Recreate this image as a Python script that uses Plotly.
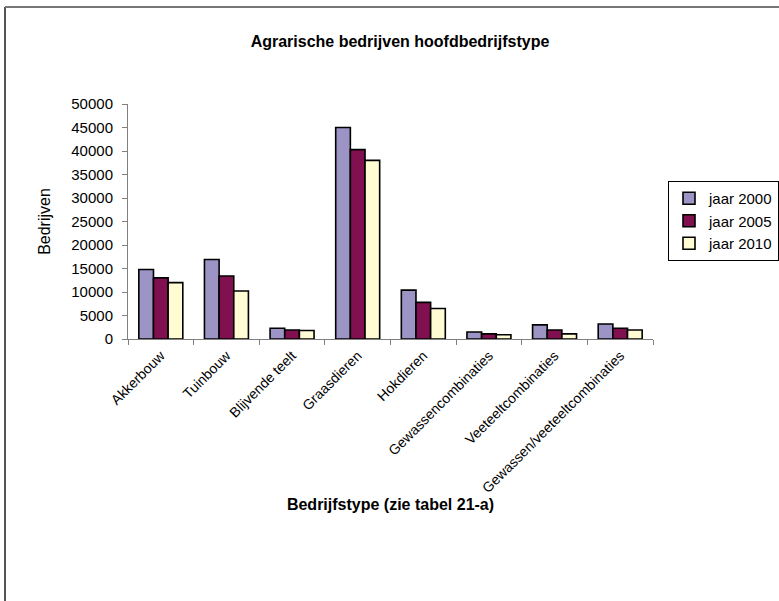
import plotly.graph_objects as go

categories = ["Akkerbouw", "Tuinbouw", "Blijvende teelt", "Graasdieren", "Hokdieren",
              "Gewassencombinaties", "Veeteeltcombinaties", "Gewassen/veeteeltcombinaties"]
jaar_2000 = [14800, 16900, 2300, 45000, 10400, 1500, 3000, 3200]
jaar_2005 = [13000, 13400, 1900, 40300, 7800, 1100, 1900, 2300]
jaar_2010 = [12000, 10200, 1800, 38000, 6500, 900, 1100, 1900]
series_names = ["jaar 2000", "jaar 2005", "jaar 2010"]
y_ticks = list(range(0, 50001, 5000))

colors = ["#9C94C4", "#80104F", "#FFFBD2"]

W, H = 779, 601
L, R, T, B = 128, 126, 104, 262
pw, ph = W - L - R, H - T - B

def px(x):
    return (x - L) / pw

def py(y):
    return (H - B - y) / ph

fig = go.Figure()
for name, vals, c in zip(series_names, [jaar_2000, jaar_2005, jaar_2010], colors):
    fig.add_trace(go.Bar(x=categories, y=vals, name=name,
                         marker=dict(color=c, line=dict(color="black", width=1.6))))

font = "Liberation Sans, Arial, sans-serif"
fig.update_layout(
    width=W, height=H,
    margin=dict(l=L, r=R, t=T, b=B, autoexpand=False),
    paper_bgcolor="white", plot_bgcolor="white",
    barmode="group", bargap=0.33, bargroupgap=0,
    font=dict(family=font, size=14, color="black"),
    title=dict(text="<b>Agrarische bedrijven hoofdbedrijfstype</b>",
               x=400 / W, xanchor="center", y=1 - 41 / H, yanchor="middle",
               font=dict(family=font, size=16, color="black")),
    showlegend=True,
    legend=dict(x=px(668), y=py(181), xanchor="left", yanchor="top",
                bordercolor="black", borderwidth=1, bgcolor="white",
                font=dict(family=font, size=15, color="black"),
                itemwidth=30, tracegroupgap=0),
    xaxis=dict(showline=True, linecolor="#808080", linewidth=1,
               ticks="outside", tickson="boundaries", ticklen=5, tickcolor="#808080",
               tickangle=-45, tickfont=dict(family=font, size=14),
               ticklabelstandoff=2,
               showgrid=False, automargin=False,
               title=dict(text="<b>Bedrijfstype (zie tabel 21-a)</b>",
                          font=dict(family=font, size=16), standoff=0)),
    yaxis=dict(range=[0, 50000], tickvals=y_ticks, tickformat="d", showline=True,
               linecolor="#808080", linewidth=1, ticks="outside", ticklen=5,
               tickcolor="#808080", tickfont=dict(family=font, size=15),
               ticklabelstandoff=6,
               showgrid=False, zeroline=False, automargin=False,
               title=dict(text="Bedrijven", font=dict(family=font, size=16), standoff=16)),
    shapes=[
        dict(type="line", xref="paper", yref="paper",
             x0=px(5), x1=px(5), y0=py(7), y1=py(610),
             line=dict(color="#555555", width=2)),
        dict(type="line", xref="paper", yref="paper",
             x0=px(5), x1=px(790), y0=py(7), y1=py(7),
             line=dict(color="#777777", width=2)),
    ],
)

fig.write_html("out.html", config={"displayModeBar": False},
               post_script="document.body.style.margin='0';")
